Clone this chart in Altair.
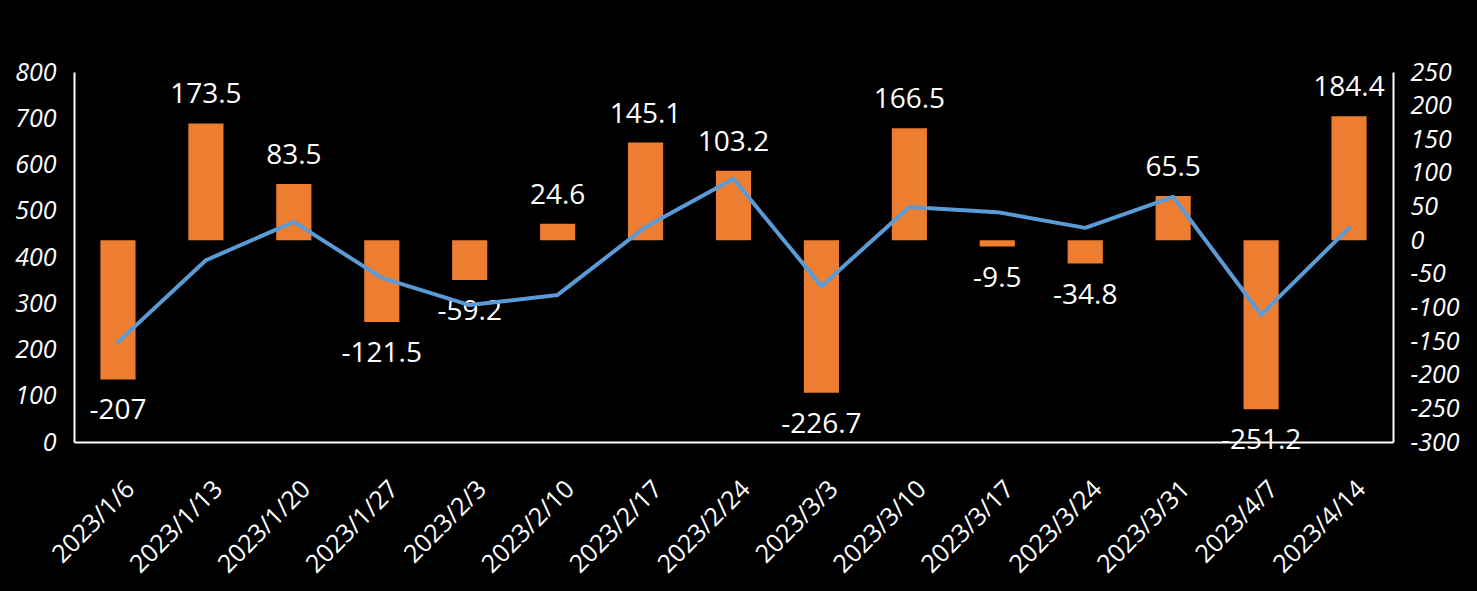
import altair as alt
import pandas as pd

dates = ["2023/1/6", "2023/1/13", "2023/1/20", "2023/1/27", "2023/2/3", "2023/2/10",
         "2023/2/17", "2023/2/24", "2023/3/3", "2023/3/10", "2023/3/17", "2023/3/24",
         "2023/3/31", "2023/4/7", "2023/4/14"]
changes = [-207, 173.5, 83.5, -121.5, -59.2, 24.6, 145.1, 103.2, -226.7, 166.5,
           -9.5, -34.8, 65.5, -251.2, 184.4]
change_labels = ["-207", "173.5", "83.5", "-121.5", "-59.2", "24.6", "145.1", "103.2",
                 "-226.7", "166.5", "-9.5", "-34.8", "65.5", "-251.2", "184.4"]
levels = [216, 393, 476, 355, 296, 318, 465, 569, 337, 508, 497, 463, 530, 275, 463]

left_ticks = [0, 100, 200, 300, 400, 500, 600, 700, 800]
right_ticks = [-300, -250, -200, -150, -100, -50, 0, 50, 100, 150, 200, 250]

df = pd.DataFrame({"date": dates, "change": changes, "label": change_labels, "level": levels})

FONT = "Open Sans"
ORANGE = "#ED7D31"
BLUE = "#5B9BD5"

x_axis = alt.Axis(labelAngle=315, labelAlign="right", labelBaseline="top",
                  labelPadding=34, labelOffset=4, ticks=False, labelColor="white",
                  labelFont=FONT, labelFontSize=25, domainColor="white",
                  domainWidth=2, grid=False, labelOverlap=False)
x_scale = alt.Scale(paddingInner=0.6, paddingOuter=0.3)


def x_enc():
    return alt.X("date:N", sort=dates, title=None, scale=x_scale, axis=x_axis)


bar_scale = alt.Scale(domain=[-300, 250], nice=False, zero=False)
right_axis = alt.Axis(orient="right", values=right_ticks, ticks=False,
                      labelExpr="'' + datum.value", labelOverlap=False,
                      labelColor="white", labelFont=FONT, labelFontSize=25,
                      labelFontStyle="italic", labelPadding=17,
                      labelAlign="left", domainColor="white", domainWidth=2,
                      grid=False)


def y_bar():
    return alt.Y("change:Q", scale=bar_scale, title=None, axis=right_axis)


bars = alt.Chart(df).mark_bar(color=ORANGE).encode(x=x_enc(), y=y_bar())

text_pos = alt.Chart(df).transform_filter("datum.change >= 0").mark_text(
    color="white", font=FONT, fontSize=28, baseline="alphabetic", dy=-20, clip=False
).encode(x=x_enc(), y=y_bar(), text="label:N")

text_neg = alt.Chart(df).transform_filter("datum.change < 0").mark_text(
    color="white", font=FONT, fontSize=28, baseline="alphabetic", dy=40, clip=False
).encode(x=x_enc(), y=y_bar(), text="label:N")

bar_layer = alt.layer(bars, text_pos, text_neg)

line = alt.Chart(df).mark_line(color=BLUE, strokeWidth=4, strokeJoin="round",
                               strokeCap="round").encode(
    x=x_enc(),
    y=alt.Y("level:Q", scale=alt.Scale(domain=[0, 800], nice=False), title=None,
            axis=alt.Axis(orient="left", values=left_ticks, ticks=False,
                          labelOverlap=False,
                          labelColor="white", labelFont=FONT, labelFontSize=25,
                          labelFontStyle="italic", labelPadding=18,
                          domainColor="white", domainWidth=2, grid=False)),
)

chart = alt.layer(bar_layer, line).resolve_scale(y="independent").properties(
    width=1319, height=370,
    background="black",
    padding={"left": 74, "top": 72, "right": 84, "bottom": 149},
    autosize=alt.AutoSizeParams(type="none"),
).configure_view(stroke=None)

chart.save("out.html", embed_options={"renderer": "svg", "actions": False})
